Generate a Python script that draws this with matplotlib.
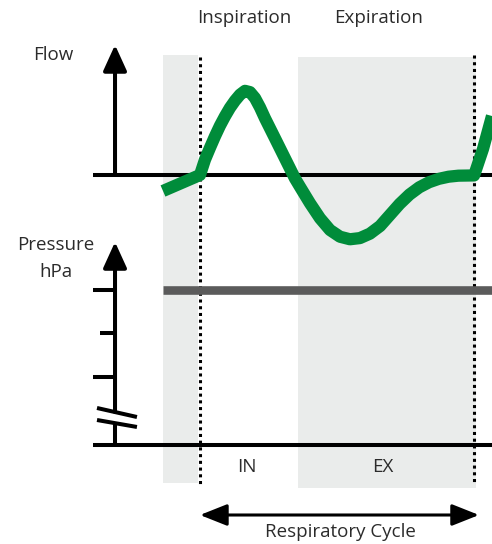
import matplotlib.pyplot as plt

plt.rcParams['font.family'] = ['Open Sans', 'DejaVu Sans']

W, H = 492, 544

# respiratory phases (s)
t_prev = -0.38   # tail of the previous expiration
t_insp = 0.0
t_exp = 1.0
t_end = 2.8

# flow curve
flow_t = [-0.378, 0.0, 0.051, 0.102, 0.153, 0.204, 0.255, 0.306, 0.358, 0.409, 0.46,
          0.511, 0.562, 0.613, 0.664, 0.766, 0.868, 0.97, 1.021, 1.124, 1.226,
          1.328, 1.43, 1.532, 1.634, 1.736, 1.84, 1.94, 2.04, 2.14, 2.24, 2.34,
          2.44, 2.54, 2.64, 2.8, 2.891, 2.983]
flow_v = [-0.188, 0.0, 0.18, 0.32, 0.455, 0.58, 0.69, 0.79, 0.875, 0.945, 0.99,
          0.975, 0.905, 0.795, 0.667, 0.432, 0.196, -0.04, -0.138, -0.333, -0.509,
          -0.647, -0.726, -0.756, -0.742, -0.69, -0.6, -0.47, -0.34, -0.23, -0.145, -0.085,
          -0.045, -0.02, -0.008, -0.005, 0.306, 0.694]

# pressure (hPa)
p_ticks = [10, 20, 30]
p_level = 30

phase_labels = ['Inspiration', 'Expiration']
phase_short = ['IN', 'EX']
cycle_label = 'Respiratory Cycle'

T0, T1 = -2.043, 2.983          # time at the left / right edge of the figure
t_axis = -0.868                 # where the y axes stand
t_left = -1.093                 # left end of the base lines
txt = dict(fontsize=13.5, color='#2b2b2b', ha='center', va='center')


def px_box(top, bottom):
    return [0, 1 - bottom / H, 1, (bottom - top) / H]


fig = plt.figure(figsize=(W / 100, H / 100), dpi=100)

bg = fig.add_axes([0, 0, 1, 1], zorder=0)
bg.set_xlim(T0, T1)
bg.set_ylim(H, 0)
bg.axis('off')

ax_f = fig.add_axes(px_box(40, 255), zorder=2)
ax_f.set_xlim(T0, T1)
ax_f.set_ylim(-0.941, 1.588)
ax_f.axis('off')
ax_f.patch.set_visible(False)

ax_p = fig.add_axes(px_box(235, 445), zorder=1)
ax_p.set_xlim(T0, T1)
p_bottom = -5.63
ax_p.set_ylim(p_bottom, 42.6)
ax_p.axis('off')
ax_p.patch.set_visible(False)

# shaded expiration phases
shade = '#eaeceb'
bg.fill_between([t_prev, t_insp - 0.02], 483, 55, color=shade, lw=0)
bg.fill_between([t_exp, t_end + 0.02], 488, 57, color=shade, lw=0)

# dotted phase borders
bg.plot([t_insp, t_insp], [57, 484], color='black', lw=2.2, ls=(0, (1, 1.2)))
bg.plot([t_end, t_end], [55, 484], color='black', lw=2.2, ls=(0, (1, 1.2)))

# phase texts
bg.text(0.45, 18, phase_labels[0], **txt)
bg.text(1.82, 18, phase_labels[1], **txt)
bg.text(0.48, 467, phase_short[0], **txt)
bg.text(1.87, 467, phase_short[1], **txt)

# respiratory cycle arrow
bg.annotate('', xy=(t_end + 0.05, 515), xytext=(t_insp, 515),
            arrowprops=dict(arrowstyle='<|-|>,head_length=0.83,head_width=0.33',
                            color='black', lw=2.2, shrinkA=0, shrinkB=0, mutation_scale=20))
bg.text(1.43, 532, cycle_label, **txt)

# flow panel
ax_f.plot([t_left, T1], [0, 0], color='black', lw=2.9, clip_on=False, solid_capstyle='butt')
ax_f.annotate('', xy=(t_axis, 1.53), xytext=(t_axis, 0),
              arrowprops=dict(arrowstyle='-|>,head_length=0.79,head_width=0.36',
                              color='black', lw=2.9, shrinkA=0, shrinkB=0, mutation_scale=20))
ax_f.plot(flow_t, flow_v, color='#008c3a', lw=8.8, solid_capstyle='butt',
          solid_joinstyle='round', clip_on=False)
fig.text(53 / W, 1 - 55 / H, 'Flow', **txt)

# pressure panel
ax_p.plot([t_left, T1], [p_bottom, p_bottom], color='black', lw=2.9, clip_on=False,
          solid_capstyle='butt')
ax_p.plot([t_axis, t_axis], [p_bottom, -0.69], color='black', lw=2.9, clip_on=False,
          solid_capstyle='butt')
ax_p.annotate('', xy=(t_axis, 41.0), xytext=(t_axis, 1.95),
              arrowprops=dict(arrowstyle='-|>,head_length=0.79,head_width=0.36',
                              color='black', lw=2.9, shrinkA=0, shrinkB=0, mutation_scale=20))
for p in p_ticks:
    x0 = -1.021 if p == 20 else t_left
    ax_p.plot([x0, t_axis], [p, p], color='black', lw=2.9, solid_capstyle='butt')
# axis break
ax_p.plot([-1.052, -0.644], [2.87, 0.80], color='black', lw=2.9, solid_capstyle='butt')
ax_p.plot([-1.052, -0.644], [0.11, -1.49], color='black', lw=2.9, solid_capstyle='butt')
ax_p.plot([t_prev, T1], [p_level, p_level], color='#5b5b5b', lw=6.2,
          solid_capstyle='butt', clip_on=False)
fig.text(56 / W, 1 - 245 / H, 'Pressure', **txt)
fig.text(56 / W, 1 - 272 / H, 'hPa', **txt)

fig.savefig('out.png', dpi=100)
